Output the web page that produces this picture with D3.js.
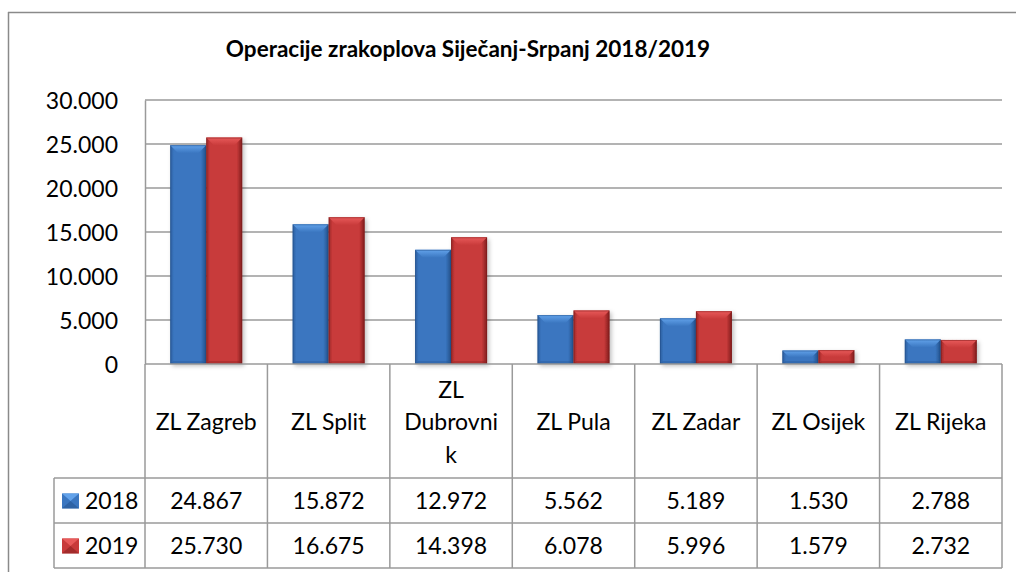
<!DOCTYPE html>
<html>
<head>
<meta charset="utf-8">
<script src="https://cdn.jsdelivr.net/npm/d3@7"></script>
<style>
  body { margin: 0; background: #fff; }
  text { font-family: Lato, "Open Sans", sans-serif; fill: #000; }
</style>
</head>
<body>
<div id="chart"></div>
<script>
// data
var categories = ["ZL Zagreb", "ZL Split", "ZL Dubrovnik", "ZL Pula", "ZL Zadar", "ZL Osijek", "ZL Rijeka"];
var labelLines = [["ZL Zagreb"], ["ZL Split"], ["ZL", "Dubrovni", "k"], ["ZL Pula"], ["ZL Zadar"], ["ZL Osijek"], ["ZL Rijeka"]];
var seriesNames = ["2018", "2019"];
var values2018 = [24867, 15872, 12972, 5562, 5189, 1530, 2788];
var values2019 = [25730, 16675, 14398, 6078, 5996, 1579, 2732];
var yTicks = [0, 5000, 10000, 15000, 20000, 25000, 30000];
var title = "Operacije zrakoplova Siječanj-Srpanj 2018/2019";

var width = 1016, height = 572;
var plotLeft = 145, plotRight = 1002, plotTop = 100, zeroY = 364;
var headBottom = 478, row1Bottom = 523, row2Bottom = 568, legendLeft = 54;
var grid = "#9a9a9a";
var fs = "23px";

var colors = {
  "2018": {body: "#3a76c0", light: "#62a2ea", dark: "#22508a", edge: "#2b5c9c"},
  "2019": {body: "#c83a3a", light: "#e85a5a", dark: "#7e1c1c", edge: "#962626"}
};

var loc = d3.formatLocale({decimal: ",", thousands: ".", grouping: [3], currency: ["", ""]});
var fmt = loc.format(",.0f");

var svg = d3.select("#chart").append("svg")
    .attr("width", width)
    .attr("height", height);

var defs = svg.append("defs");
seriesNames.forEach(function(s) {
  var c = colors[s];
  var gr = defs.append("linearGradient").attr("id", "body" + s)
      .attr("x1", "0").attr("x2", "1").attr("y1", "0").attr("y2", "0");
  gr.append("stop").attr("offset", "0").attr("stop-color", c.edge);
  gr.append("stop").attr("offset", "0.1").attr("stop-color", c.body);
  gr.append("stop").attr("offset", "0.85").attr("stop-color", c.body);
  gr.append("stop").attr("offset", "1").attr("stop-color", c.dark);
  var tg = defs.append("linearGradient").attr("id", "top" + s)
      .attr("x1", "0").attr("x2", "0").attr("y1", "0").attr("y2", "1");
  tg.append("stop").attr("offset", "0").attr("stop-color", c.light);
  tg.append("stop").attr("offset", "1").attr("stop-color", c.body);
});
var sh = defs.append("filter").attr("id", "shadow")
    .attr("x", "-20%").attr("y", "-20%").attr("width", "150%").attr("height", "150%");
sh.append("feDropShadow").attr("dx", 2).attr("dy", 2).attr("stdDeviation", 2)
  .attr("flood-color", "#000").attr("flood-opacity", 0.25);

// outer frame
svg.append("line").attr("x1", 8.5).attr("x2", 8.5).attr("y1", 12).attr("y2", height)
   .attr("stroke", "#8a8a8a").attr("stroke-width", 1.5);
svg.append("line").attr("x1", 8).attr("x2", width).attr("y1", 12.5).attr("y2", 12.5)
   .attr("stroke", "#8a8a8a").attr("stroke-width", 1.5);

// title
svg.append("text")
   .attr("x", 468).attr("y", 57)
   .attr("text-anchor", "middle")
   .style("font-weight", "bold")
   .style("font-size", "22.5px")
   .text(title);

// scales
var x = d3.scaleBand().domain(categories).range([plotLeft, plotRight]).paddingInner(0).paddingOuter(0);
var x1 = d3.scaleBand().domain(seriesNames).range([0, x.bandwidth()]).paddingInner(0).paddingOuter(0.7);
var y = d3.scaleLinear().domain([0, 30000]).range([zeroY, plotTop]);

// gridlines
svg.append("g").selectAll("line").data(yTicks.slice(1)).enter().append("line")
   .attr("x1", plotLeft).attr("x2", plotRight)
   .attr("y1", function(d) { return y(d); }).attr("y2", function(d) { return y(d); })
   .attr("stroke", grid).attr("stroke-width", 1.5);

// y axis
var yAxis = svg.append("g")
    .attr("transform", "translate(" + plotLeft + ",0)")
    .call(d3.axisLeft(y).tickValues(yTicks).tickFormat(fmt).tickSize(0).tickPadding(27));
yAxis.select(".domain").attr("stroke", grid).attr("stroke-width", 1.5);
yAxis.selectAll("text").style("font-size", fs).style("font-family", "Lato, sans-serif").attr("dy", "0.35em");

// bars
var series = seriesNames.map(function(s, i) {
  return {name: s, values: i === 0 ? values2018 : values2019};
});

var barG = svg.append("g");
series.forEach(function(s) {
  var c = colors[s.name];
  s.values.forEach(function(v, i) {
    var x0 = x(categories[i]) + x1(s.name);
    var w = x1.bandwidth();
    var yt = y(v), yb = y(0);
    var h = yb - yt;
    var b = Math.min(8, h / 2);
    var g = barG.append("g");
    g.append("rect").attr("x", x0).attr("y", yt).attr("width", w).attr("height", h)
     .attr("fill", "url(#body" + s.name + ")").attr("filter", "url(#shadow)");
    // bottom bevel
    g.append("polygon")
     .attr("points", [[x0, yb], [x0 + w, yb], [x0 + w - 3, yb - 3], [x0 + 3, yb - 3]].join(" "))
     .attr("fill", c.dark).attr("opacity", 0.3);
    // top bevel
    g.append("polygon")
     .attr("points", [[x0, yt], [x0 + w, yt], [x0 + w - b, yt + b], [x0 + b, yt + b]].join(" "))
     .attr("fill", "url(#top" + s.name + ")");
    g.append("rect").attr("x", x0 + 0.5).attr("y", yt + 0.5).attr("width", w - 1).attr("height", h - 1)
     .attr("fill", "none").attr("stroke", c.dark).attr("stroke-width", 1).attr("opacity", 0.5);
  });
});

// data table
var tbl = svg.append("g").attr("stroke", grid).attr("stroke-width", 1.5);
tbl.append("line").attr("x1", plotLeft).attr("x2", plotRight).attr("y1", zeroY).attr("y2", zeroY);
[headBottom, row1Bottom, row2Bottom].forEach(function(yy) {
  tbl.append("line").attr("x1", legendLeft).attr("x2", plotRight).attr("y1", yy).attr("y2", yy);
});
tbl.append("line").attr("x1", legendLeft).attr("x2", legendLeft).attr("y1", headBottom).attr("y2", row2Bottom);
categories.concat(["end"]).forEach(function(cat, i) {
  var xx = i < categories.length ? x(cat) : plotRight;
  tbl.append("line").attr("x1", xx).attr("x2", xx).attr("y1", zeroY).attr("y2", row2Bottom);
});

// category headers
var lh = 32.5;
var headMid = (zeroY + headBottom) / 2 + 1;
categories.forEach(function(cat, i) {
  var lines = labelLines[i];
  var t = svg.append("text")
      .attr("x", x(cat) + x.bandwidth() / 2)
      .attr("text-anchor", "middle")
      .style("font-size", fs);
  lines.forEach(function(ln, j) {
    t.append("tspan")
     .attr("x", x(cat) + x.bandwidth() / 2)
     .attr("y", headMid + (j - (lines.length - 1) / 2) * lh)
     .attr("dy", "0.35em")
     .text(ln);
  });
});

// value rows
var rowMid = [(headBottom + row1Bottom) / 2, (row1Bottom + row2Bottom) / 2];
series.forEach(function(s, si) {
  s.values.forEach(function(v, i) {
    svg.append("text")
       .attr("x", x(categories[i]) + x.bandwidth() / 2)
       .attr("y", rowMid[si])
       .attr("dy", "0.35em")
       .attr("text-anchor", "middle")
       .style("font-size", fs)
       .text(fmt(v));
  });
  // legend key
  var c = colors[s.name];
  var kx = 62, ky = rowMid[si] - 7, kw = 17, kh = 15;
  svg.append("rect").attr("x", kx).attr("y", ky).attr("width", kw).attr("height", kh)
     .attr("fill", c.body);
  svg.append("polygon")
     .attr("points", [[kx, ky], [kx + kw, ky], [kx + kw / 2, ky + kh / 2]].join(" "))
     .attr("fill", c.light);
  svg.append("polygon")
     .attr("points", [[kx, ky + kh], [kx + kw, ky + kh], [kx + kw / 2, ky + kh / 2]].join(" "))
     .attr("fill", c.dark).attr("opacity", 0.5);
  svg.append("text")
     .attr("x", 85).attr("y", rowMid[si]).attr("dy", "0.35em")
     .style("font-size", fs)
     .text(s.name);
});
</script>
</body>
</html>
